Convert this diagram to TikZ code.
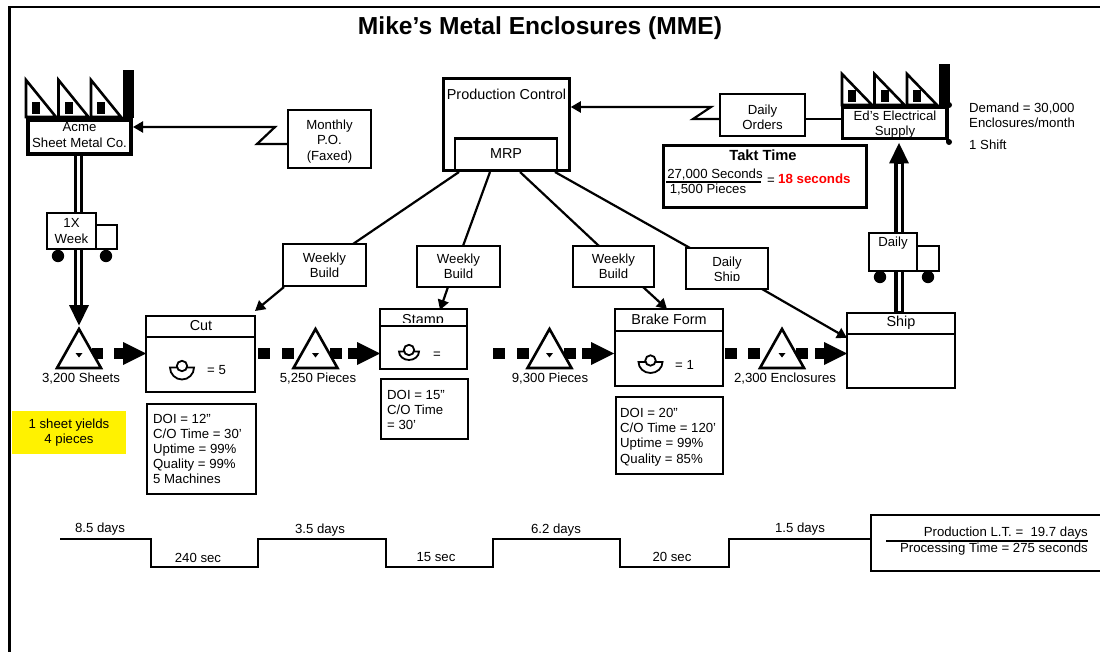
\documentclass[tikz,border=0pt]{standalone}
\usepackage{fontspec}
\setmainfont{Liberation Sans}
\usetikzlibrary{arrows.meta, calc}

\tikzset{
  lbl/.style={inner sep=0pt, align=center, font=\fontsize{13.2}{15.3}\selectfont},
  hdr/.style={inner sep=0pt, align=center, font=\fontsize{14.4}{16}\selectfont},
  lbll/.style={inner sep=0pt, align=left, anchor=west, font=\fontsize{13.2}{15.2}\selectfont},
  databox/.style={draw, line width=2.5pt, fill=white},
  thinbox/.style={draw, line width=2pt, fill=white},
  conn/.style={line width=2.2pt},
}
% factory icon: left x, top y of the roof, roof height
\newcommand{\plant}[3]{
  \foreach \dx in {0,32.5,65}{
    \draw[line width=2.6pt, miter limit=3] ($(#1+\dx,#2)$) -- ($(#1+\dx+30,#2+#3)$) -- ($(#1+\dx,#2+#3)$) -- cycle;
    \fill ($(#1+\dx+6,#2+#3-15)$) rectangle ($(#1+\dx+14,#2+#3-3)$);
  }
  \fill ($(#1+97,#2-10)$) rectangle ($(#1+108,#2+#3+1)$);
}
% operator icon: x, y, half width, depth of the cup
\newcommand{\oper}[4]{
  \draw[line width=1.8pt] ($(#1-#3,#2+1.5)$) -- ($(#1+#3,#2+1.5)$) arc (0:180:#3 and #4) -- cycle;
  \draw[line width=1.8pt, fill=white] (#1,#2) circle (5.2);
}
% inventory triangle
\newcommand{\stock}[3]{
  \draw[line width=2.6pt, fill=white] (#1,329) -- ($(#1+22,368)$) -- ($(#1-22,368)$) -- cycle;
  \fill ($(#1-3.5,353)$) -- ($(#1+3.5,353)$) -- (#1,357.5) -- cycle;
  \node[lbl] at (#2,379) {#3};
}
% push arrow end
\newcommand{\pushend}[1]{
  \fill ($(#1-32,348)$) rectangle ($(#1-23,359)$);
  \fill ($(#1-23,342)$) -- (#1,353.5) -- ($(#1-23,365)$) -- cycle;
}

\begin{document}
\begin{tikzpicture}[x=1pt, y=-1pt, >={Triangle[length=10pt, width=11pt]}]
  \useasboundingbox (0,0) rectangle (1100,652);
  \fill[white] (0,0) rectangle (1100,652);
  \draw[line width=2.8pt] (9.5,652) -- (9.5,7) -- (1100,7);
  \node[inner sep=0pt, font=\fontsize{24.6}{27}\selectfont\bfseries] (title) at (540,28) {Mike’s Metal Enclosures (MME)};

  % supplier
  \plant{26}{80}{37}
  \node[draw, line width=4pt, fill=white, minimum width=103pt, minimum height=34pt, inner sep=0pt] (acme) at (79.5,137) {};
  \node[lbl] (acmetxt) at (79.5,135) {Acme\\Sheet Metal Co.};

  % customer
  \plant{842}{74}{31}
  \draw[line width=3pt] (947,105) -- (947,142);
  \node[draw, line width=3pt, fill=white, minimum width=104pt, minimum height=31pt, inner sep=0pt] (eds) at (894.5,123) {};
  \node[lbl] (edstxt) at (895,124.5) {Ed’s Electrical\\Supply};
  \fill (949,105) circle (3) (949,142) circle (3);
  \node[lbll] (demand) at (969,115) {Demand = 30,000\\Enclosures/month};
  \node[lbll] (shift) at (969,145) {1 Shift};

  % production control
  \node[draw, line width=2.5pt, minimum width=126pt, minimum height=92pt, inner sep=0pt] (pc) at (506.5,124.5) {};
  \node[hdr] (pctxt) at (506.5,94) {Production Control};
  \node[draw, line width=2.5pt, minimum width=102pt, minimum height=32pt, inner sep=0pt] (mrp) at (506,154.5) {};
  \node[hdr] (mrptxt) at (506,154) {MRP};

  % electronic info
  \node[thinbox, minimum width=83pt, minimum height=58pt, inner sep=0pt] (po) at (329.5,139) {};
  \node[lbl] (potxt) at (329.5,141.5) {Monthly\\P.O.\\(Faxed)};
  \node[thinbox, minimum width=85pt, minimum height=42pt, inner sep=0pt] (orders) at (762.5,115) {};
  \node[lbl] (ordtxt) at (762.5,117) {Daily\\Orders};
  \draw[conn, ->] (po.west |- 0,144) -- (257,144) -- (275,127) -- (acme.east |- 0,127);
  \draw[conn, ->] (orders.west |- 0,119) -- (693,119) -- (711,107) -- (pc.east |- 0,107);
  \draw[conn] (orders.east |- 0,119) -- (eds.west |- 0,119);

  % takt
  \node[databox, minimum width=203pt, minimum height=62pt, inner sep=0pt] (takt) at (765,176.5) {};
  \node[inner sep=0pt, font=\fontsize{14.7}{16}\selectfont\bfseries] (takttxt) at (763,155) {Takt Time};
  \node[lbl] (sec) at (715,175) {27,000 Seconds};
  \node[lbl] (pcs) at (708,190) {1,500 Pieces};
  \draw[conn] (666,182) -- (761,182);
  \node[lbl] (eq) at (771,181) {=};
  \node[lbl, anchor=west, text=red, font=\fontsize{13.3}{15}\selectfont\bfseries] (res) at (778,179) {18 seconds};

  % schedule lines
  \coordinate (c1) at (459,172);
  \coordinate (c2) at (490,172);
  \coordinate (c3) at (520,172);
  \coordinate (c4) at (555,172);
  \draw[conn] (c1) -- (353,244);
  \draw[conn] (c2) -- (463,246);
  \draw[conn] (c3) -- (599,246);
  \draw[conn] (c4) -- (690,248);
  \draw[conn, ->] (284,287) -- (255,311);
  \draw[conn, ->] (448,287) -- (440,310);
  \draw[conn, ->] (643,287) -- (667,309);
  \draw[conn, ->] (762,289) -- (847,338);
  \node[thinbox, minimum width=83pt, minimum height=42pt, inner sep=0pt, lbl] (wb1) at (324.5,265) {Weekly\\Build};
  \node[thinbox, minimum width=83pt, minimum height=41pt, inner sep=0pt, lbl] (wb2) at (458.5,266.5) {Weekly\\Build};
  \node[thinbox, minimum width=81pt, minimum height=41pt, inner sep=0pt, lbl] (wb3) at (613.5,266.5) {Weekly\\Build};
  \node[lbl] (dstxt) at (727,270.5) {Daily\\Ship};
  \fill[white] (686,281.5) rectangle (768,288);
  \node[draw, line width=2pt, minimum width=82pt, minimum height=41pt, inner sep=0pt] (ds) at (727,268.5) {};

  % pull lines
  \draw[line width=8.6pt] (78.5,156) -- (78.5,308);
  \draw[white, line width=2.6pt] (78.5,156) -- (78.5,306);
  \fill (69,305) -- (89,305) -- (79,325.5) -- cycle;
  \draw[line width=9.6pt] (899,160) -- (899,313);
  \draw[white, line width=3pt] (899,164) -- (899,311);
  \fill (889,163.5) -- (909,163.5) -- (899,143) -- cycle;

  % trucks
  \node[draw, line width=2pt, fill=white, minimum width=21pt, minimum height=24pt, inner sep=0pt] (cab1) at (106.5,237) {};
  \node[thinbox, minimum width=49pt, minimum height=36pt, inner sep=0pt, lbl] (truck1) at (71.5,231) {1X\\Week};
  \fill (58,256) circle (6.2) (106,256) circle (6.2);
  \node[draw, line width=2pt, fill=white, minimum width=22pt, minimum height=25pt, inner sep=0pt] (cab2) at (928,258.5) {};
  \node[thinbox, minimum width=48pt, minimum height=38pt, inner sep=0pt] (truck2) at (893,252) {};
  \node[lbl] (trucktxt) at (893,243) {Daily};
  \fill (880,277) circle (6.2) (928,277) circle (6.2);

  % push arrows and inventory
  \fill (92,348) rectangle (103,359);
  \foreach \sx in {258,282,330}{\fill (\sx,348) rectangle (\sx+12,359);}
  \foreach \sx in {493,517,564}{\fill (\sx,348) rectangle (\sx+12,359);}
  \foreach \sx in {725,748,796}{\fill (\sx,348) rectangle (\sx+12,359);}
  \pushend{146}
  \pushend{380}
  \pushend{614}
  \pushend{847}
  \stock{79}{81}{3,200 Sheets}
  \stock{315.5}{318}{5,250 Pieces}
  \stock{549.5}{550}{9,300 Pieces}
  \stock{782}{785}{2,300 Enclosures}

  % processes
  \node[databox, minimum width=109pt, minimum height=76pt, inner sep=0pt] (cut) at (200.5,354) {};
  \draw[line width=2.5pt] (146,337) -- (255,337);
  \node[hdr] (cuttxt) at (201,326) {Cut};
  \oper{182}{366}{12}{12}
  \node[lbl, anchor=west] (cutn) at (207,370) {= 5};

  \node[hdr] (stamptxt) at (423,320.5) {Stamp};
  \fill[white] (382,323) rectangle (466,325);
  \node[draw, line width=2.5pt, minimum width=87pt, minimum height=60pt, inner sep=0pt] (stamp) at (423.5,339) {};
  \draw[line width=2.5pt] (380,326) -- (467,326);
  \oper{409}{350}{10}{8.5}
  \node[lbl, anchor=west] (stampn) at (433,355) {=};

  \node[databox, minimum width=108pt, minimum height=77pt, inner sep=0pt] (brake) at (669,347.5) {};
  \draw[line width=2.5pt] (615,331) -- (723,331);
  \node[hdr] (braketxt) at (669,319) {Brake Form};
  \oper{650.5}{360.5}{12}{11}
  \node[lbl, anchor=west] (braken) at (675,365) {= 1};

  \node[databox, minimum width=108pt, minimum height=75pt, inner sep=0pt] (ship) at (901,350.5) {};
  \draw[line width=2.5pt] (847,334) -- (955,334);
  \node[hdr] (shiptxt) at (901,323) {Ship};

  % data boxes
  \node[databox, minimum width=109pt, minimum height=90pt, inner sep=0pt] (cutd) at (201.5,449) {};
  \node[lbll] (cutdt) at (153,449) {DOI = 12”\\C/O Time = 30’\\Uptime = 99\%\\Quality = 99\%\\5 Machines};
  \node[databox, minimum width=87pt, minimum height=60pt, inner sep=0pt] (stampd) at (424.5,409) {};
  \node[lbll] (stampdt) at (387,410) {DOI = 15”\\C/O Time\\= 30’};
  \node[databox, minimum width=107pt, minimum height=77pt, inner sep=0pt] (braked) at (669.5,435.5) {};
  \node[lbll] (brakedt) at (620,437) {DOI = 20”\\C/O Time = 120’\\Uptime = 99\%\\Quality = 85\%};

  % note
  \node[fill=yellow, minimum width=114pt, minimum height=43pt, inner sep=0pt, lbl] (note) at (69,432.5) {1 sheet yields\\4 pieces};

  % timeline
  \node[databox, minimum width=240pt, minimum height=56pt, inner sep=0pt] (sum) at (991,543) {};
  \coordinate (tl) at (60,539);
  \draw[conn] (tl) -- (151,539) -- (151,567) -- (258,567) -- (258,539) -- (386,539) -- (386,567) -- (493,567) -- (493,539) -- (620,539) -- (620,567) -- (729,567) -- (729,539) -- (sum.west |- 0,539);
  \node[lbl] (t1) at (100,529) {8.5 days};
  \node[lbl] (t2) at (198,558) {240 sec};
  \node[lbl] (t3) at (320,530) {3.5 days};
  \node[lbl] (t4) at (436,557) {15 sec};
  \node[lbl] (t5) at (556,530) {6.2 days};
  \node[lbl] (t6) at (672,557) {20 sec};
  \node[lbl] (t7) at (800,529) {1.5 days};
  \node[lbl, anchor=east] (lt) at (1088,533) {Production L.T. =\ \ 19.7 days};
  \node[lbl, anchor=east] (pt) at (1088,549) {Processing Time = 275 seconds};
  \draw[line width=2.5pt] (886,541) -- (1088,541);
\end{tikzpicture}
\end{document}
